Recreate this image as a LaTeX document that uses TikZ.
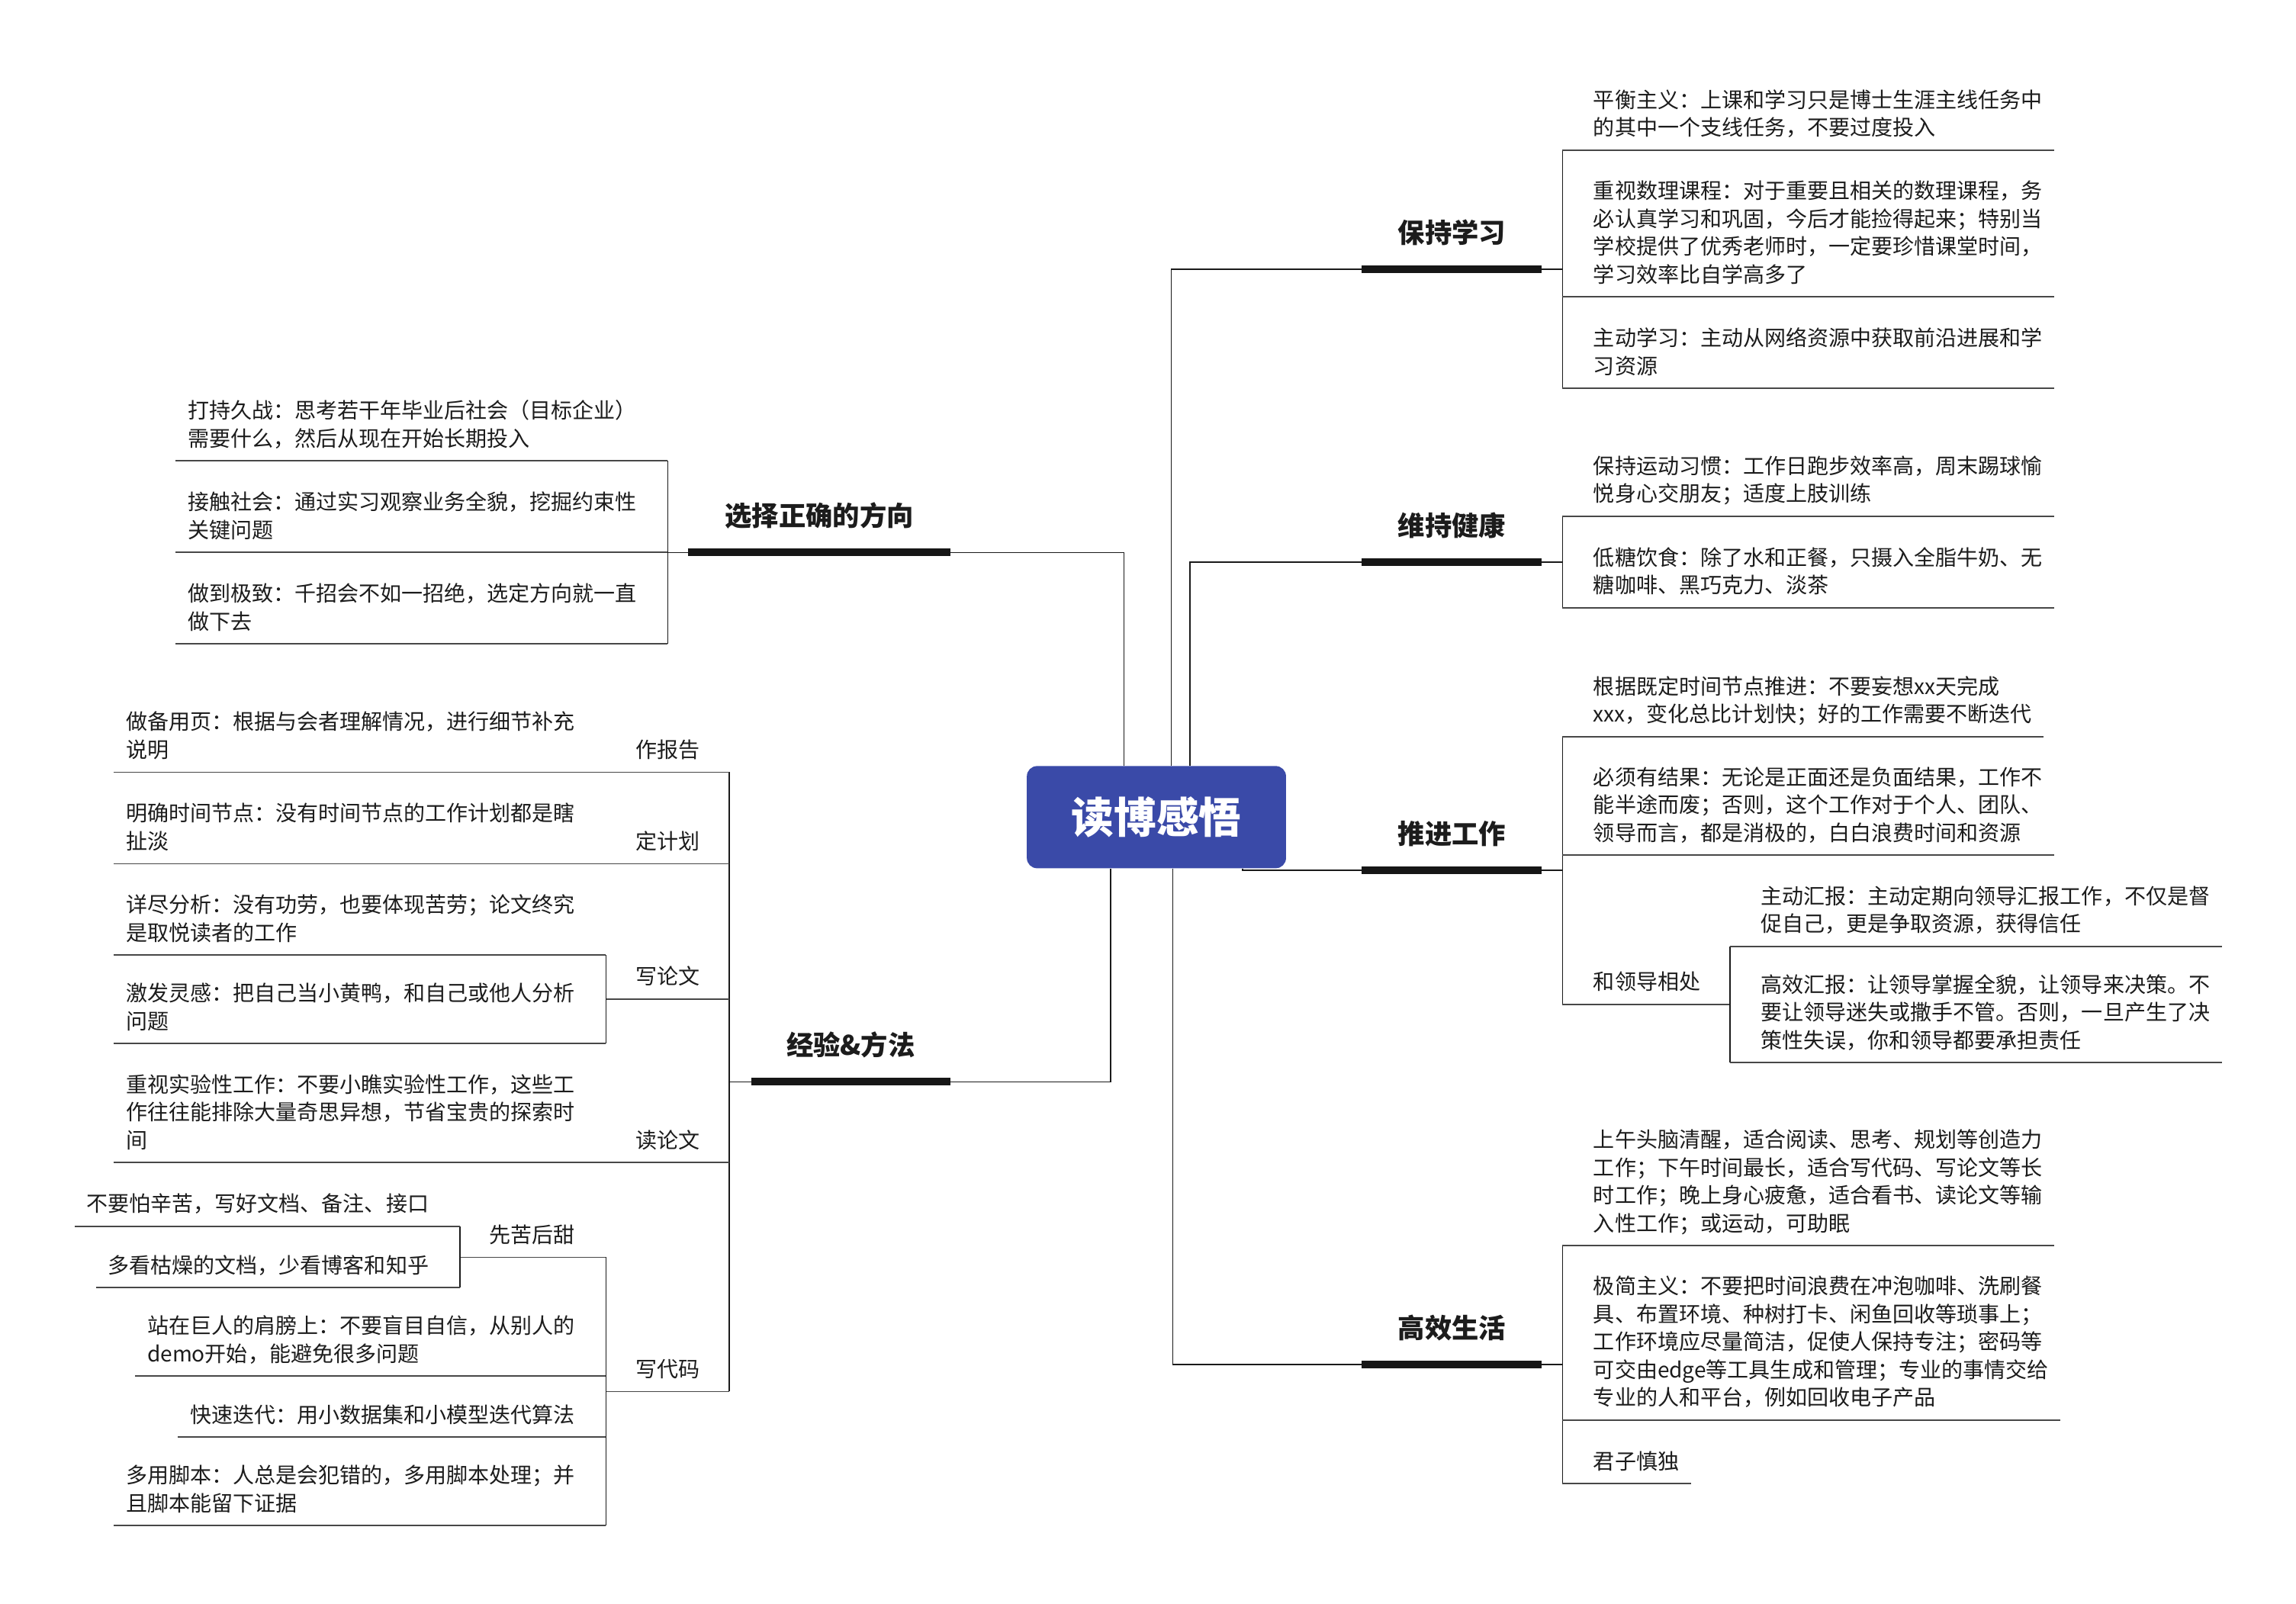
\documentclass[tikz,border=0pt]{standalone}
\usepackage{fontspec}
\usetikzlibrary{calc}
\newfontfamily\cjk{Noto Sans CJK SC}
\definecolor{rootblue}{HTML}{3A4AA8}
\definecolor{ink}{HTML}{1C1C1C}
\definecolor{wirecol}{HTML}{1A1A1A}
\definecolor{rulecol}{HTML}{474747}
\definecolor{barcol}{HTML}{161616}
\tikzset{
  leaf/.style={inner sep=0pt, align=left, text depth=0pt, text=ink,
    font=\cjk\fontsize{14.6}{19}\selectfont},
  rleaf/.style={leaf, anchor=south west},
  lleaf/.style={leaf, anchor=south east},
  branchtitle/.style={inner sep=0pt, anchor=base, text=ink,
    font=\cjk\bfseries\fontsize{18.4}{22}\selectfont},
  rootnode/.style={fill=rootblue, rounded corners=7pt, minimum width=177pt,
    minimum height=69.8pt, inner sep=0pt, text=white,
    font=\cjk\bfseries\fontsize{29}{34}\selectfont},
  wire/.style={draw=wirecol, line width=0.8pt},
  uline/.style={draw=rulecol, line width=0.95pt},
  bar/.style={draw=barcol, line width=5.2pt},
}
\begin{document}
\begin{tikzpicture}[x=1pt,y=1pt]
\useasboundingbox (0,0) rectangle (1568,-1095);
\fill[white] (0,0) rectangle (1568,-1095);

\node[rootnode] (root) at (789.75,-558.1) {读博感悟};

% ================= 保持学习
\coordinate (kb1) at (930,-183.9);
\coordinate (kb2) at (1053,-183.9);
\coordinate (kj) at (1067,-183.9);
\draw[wire] ([xshift=10.05pt]root.north) |- (kj);
\draw[bar] (kb1) -- (kb2);
\node[branchtitle] (kt) at ($(kb1)!0.5!(kb2)+(0,18)$) {保持学习};
\coordinate (k1) at (1067,-102.6);
\coordinate (k2) at (1067,-202.8);
\coordinate (k3) at (1067,-265.3);
\draw[wire] (k1) -- (k3);
\node[rleaf] (k1t) at ([xshift=21pt,yshift=9.7pt]k1) {平衡主义：上课和学习只是博士生涯主线任务中\\的其中一个支线任务，不要过度投入};
\draw[uline] (k1) -- (k1 -| k1t.east) -- ++(8,0);
\node[rleaf] (k2t) at ([xshift=21pt,yshift=9.7pt]k2) {重视数理课程：对于重要且相关的数理课程，务\\必认真学习和巩固，今后才能捡得起来；特别当\\学校提供了优秀老师时，一定要珍惜课堂时间，\\学习效率比自学高多了};
\draw[uline] (k2) -- (k2 -| k2t.east) -- ++(8,0);
\node[rleaf] (k3t) at ([xshift=21pt,yshift=9.7pt]k3) {主动学习：主动从网络资源中获取前沿进展和学\\习资源};
\draw[uline] (k3) -- (k3 -| k3t.east) -- ++(8,0);

% ================= 维持健康
\coordinate (hb1) at (930,-384);
\coordinate (hb2) at (1053,-384);
\coordinate (hj) at (1067,-384);
\draw[wire] ([xshift=22.85pt]root.north) |- (hj);
\draw[bar] (hb1) -- (hb2);
\node[branchtitle] (ht) at ($(hb1)!0.5!(hb2)+(0,18)$) {维持健康};
\coordinate (h1) at (1067,-352.5);
\coordinate (h2) at (1067,-415);
\draw[wire] (h1) -- (h2);
\node[rleaf] (h1t) at ([xshift=21pt,yshift=9.7pt]h1) {保持运动习惯：工作日跑步效率高，周末踢球愉\\悦身心交朋友；适度上肢训练};
\draw[uline] (h1) -- (h1 -| h1t.east) -- ++(8,0);
\node[rleaf] (h2t) at ([xshift=21pt,yshift=9.7pt]h2) {低糖饮食：除了水和正餐，只摄入全脂牛奶、无\\糖咖啡、黑巧克力、淡茶};
\draw[uline] (h2) -- (h2 -| h2t.east) -- ++(8,0);

% ================= 推进工作
\coordinate (tb1) at (930,-594.4);
\coordinate (tb2) at (1053,-594.4);
\coordinate (tj) at (1067,-594.4);
\draw[wire] ([xshift=58.85pt]root.south) |- (tj);
\draw[bar] (tb1) -- (tb2);
\node[branchtitle] (tt) at ($(tb1)!0.5!(tb2)+(0,18)$) {推进工作};
\coordinate (t1) at (1067,-503);
\coordinate (t2) at (1067,-584);
\coordinate (t3) at (1067,-686);
\draw[wire] (t1) -- (t3);
\node[rleaf] (t1t) at ([xshift=21pt,yshift=9.7pt]t1) {根据既定时间节点推进：不要妄想xx天完成\\xxx，变化总比计划快；好的工作需要不断迭代};
\draw[uline] (t1) -- (t1 -| t1t.east) -- ++(8,0);
\node[rleaf] (t2t) at ([xshift=21pt,yshift=9.7pt]t2) {必须有结果：无论是正面还是负面结果，工作不\\能半途而废；否则，这个工作对于个人、团队、\\领导而言，都是消极的，白白浪费时间和资源};
\draw[uline] (t2) -- (t2 -| t2t.east) -- ++(8,0);
\node[rleaf] (t3t) at ([xshift=21pt,yshift=9.7pt]t3) {和领导相处};
\coordinate (tlv) at ($(t3t.east)+(20,0)$);
\draw[uline] (t3) -- (t3 -| tlv);
\coordinate (tl1) at (tlv |- 0,-646.3);
\coordinate (tl2) at (tlv |- 0,-725.8);
\draw[wire] (tl1) -- (tl2);
\node[rleaf] (tl1t) at ([xshift=21pt,yshift=9.7pt]tl1) {主动汇报：主动定期向领导汇报工作，不仅是督\\促自己，更是争取资源，获得信任};
\draw[uline] (tl1) -- (tl1 -| tl1t.east) -- ++(8,0);
\node[rleaf] (tl2t) at ([xshift=21pt,yshift=9.7pt]tl2) {高效汇报：让领导掌握全貌，让领导来决策。不\\要让领导迷失或撒手不管。否则，一旦产生了决\\策性失误，你和领导都要承担责任};
\draw[uline] (tl2) -- (tl2 -| tl2t.east) -- ++(8,0);

% ================= 高效生活
\coordinate (eb1) at (930,-932);
\coordinate (eb2) at (1053,-932);
\coordinate (ej) at (1067,-932);
\draw[wire] ([xshift=11.25pt]root.south) |- (ej);
\draw[bar] (eb1) -- (eb2);
\node[branchtitle] (et) at ($(eb1)!0.5!(eb2)+(0,18)$) {高效生活};
\coordinate (e1) at (1067,-850.8);
\coordinate (e2) at (1067,-969.8);
\coordinate (e3) at (1067,-1013.3);
\draw[wire] (e1) -- (e3);
\node[rleaf] (e1t) at ([xshift=21pt,yshift=9.7pt]e1) {上午头脑清醒，适合阅读、思考、规划等创造力\\工作；下午时间最长，适合写代码、写论文等长\\时工作；晚上身心疲惫，适合看书、读论文等输\\入性工作；或运动，可助眠};
\draw[uline] (e1) -- (e1 -| e1t.east) -- ++(8,0);
\node[rleaf] (e2t) at ([xshift=21pt,yshift=9.7pt]e2) {极简主义：不要把时间浪费在冲泡咖啡、洗刷餐\\具、布置环境、种树打卡、闲鱼回收等琐事上；\\工作环境应尽量简洁，促使人保持专注；密码等\\可交由edge等工具生成和管理；专业的事情交给\\专业的人和平台，例如回收电子产品};
\draw[uline] (e2) -- (e2 -| e2t.east) -- ++(8,0);
\node[rleaf] (e3t) at ([xshift=21pt,yshift=9.7pt]e3) {君子慎独};
\draw[uline] (e3) -- (e3 -| e3t.east) -- ++(8,0);

% ================= 选择正确的方向
\coordinate (sb1) at (470,-377.3);
\coordinate (sb2) at (649,-377.3);
\coordinate (sj) at (456,-377.3);
\draw[wire] ([xshift=-22.25pt]root.north) |- (sj);
\draw[bar] (sb1) -- (sb2);
\node[branchtitle] (st) at ($(sb1)!0.5!(sb2)+(0,18)$) {选择正确的方向};
\coordinate (s1) at (456,-314.7);
\coordinate (s2) at (456,-377.3);
\coordinate (s3) at (456,-439.8);
\draw[wire] (s1) -- (s3);
\node[lleaf] (s1t) at ([xshift=-21pt,yshift=9.7pt]s1) {打持久战：思考若干年毕业后社会（目标企业）\\需要什么，然后从现在开始长期投入};
\draw[uline] (s1) -- (s1 -| s1t.west) -- ++(-8,0);
\node[lleaf] (s2t) at ([xshift=-21pt,yshift=9.7pt]s2) {接触社会：通过实习观察业务全貌，挖掘约束性\\关键问题};
\draw[uline] (s2) -- (s2 -| s2t.west) -- ++(-8,0);
\node[lleaf] (s3t) at ([xshift=-21pt,yshift=9.7pt]s3) {做到极致：千招会不如一招绝，选定方向就一直\\做下去};
\draw[uline] (s3) -- (s3 -| s3t.west) -- ++(-8,0);

% ================= 经验&方法
\coordinate (mb1) at (513,-738.9);
\coordinate (mb2) at (649,-738.9);
\coordinate (mj) at (498,-738.9);
\draw[wire] ([xshift=-31.25pt]root.south) |- (mj);
\draw[bar] (mb1) -- (mb2);
\node[branchtitle] (mt) at ($(mb1)!0.5!(mb2)+(0,18)$) {经验\&方法};
\coordinate (m1) at (498,-527.4);
\coordinate (m2) at (498,-589.9);
\coordinate (m3) at (498,-682.4);
\coordinate (m4) at (498,-794);
\coordinate (m5) at (498,-950.4);
\draw[wire] (m1) -- (m5);

% 作报告
\node[lleaf] (m1t) at ([xshift=-20pt,yshift=9.7pt]m1) {作报告};
\coordinate (m1c) at ($(m1t.west)+(-20,0)$);
\coordinate (r1) at (m1c |- m1);
\node[lleaf] (r1t) at ([xshift=-21pt,yshift=9.7pt]r1) {做备用页：根据与会者理解情况，进行细节补充\\说明};
\draw[uline] (m1) -- (r1) -- (r1 -| r1t.west) -- ++(-8,0);

% 定计划
\node[lleaf] (m2t) at ([xshift=-20pt,yshift=9.7pt]m2) {定计划};
\coordinate (m2c) at ($(m2t.west)+(-20,0)$);
\coordinate (p1) at (m2c |- m2);
\node[lleaf] (p1t) at ([xshift=-21pt,yshift=9.7pt]p1) {明确时间节点：没有时间节点的工作计划都是瞎\\扯淡};
\draw[uline] (m2) -- (p1) -- (p1 -| p1t.west) -- ++(-8,0);

% 写论文
\node[lleaf] (m3t) at ([xshift=-20pt,yshift=9.7pt]m3) {写论文};
\coordinate (m3c) at ($(m3t.west)+(-20,0)$);
\draw[uline] (m3) -- (m3 -| m3c);
\coordinate (w1) at (m3c |- 0,-652.4);
\coordinate (w2) at (m3c |- 0,-712.8);
\draw[wire] (w1) -- (w2);
\node[lleaf] (w1t) at ([xshift=-21pt,yshift=9.7pt]w1) {详尽分析：没有功劳，也要体现苦劳；论文终究\\是取悦读者的工作};
\draw[uline] (w1) -- (w1 -| w1t.west) -- ++(-8,0);
\node[lleaf] (w2t) at ([xshift=-21pt,yshift=9.7pt]w2) {激发灵感：把自己当小黄鸭，和自己或他人分析\\问题};
\draw[uline] (w2) -- (w2 -| w2t.west) -- ++(-8,0);

% 读论文
\node[lleaf] (m4t) at ([xshift=-20pt,yshift=9.7pt]m4) {读论文};
\coordinate (m4c) at ($(m4t.west)+(-20,0)$);
\coordinate (q1) at (m4c |- m4);
\node[lleaf] (q1t) at ([xshift=-21pt,yshift=9.7pt]q1) {重视实验性工作：不要小瞧实验性工作，这些工\\作往往能排除大量奇思异想，节省宝贵的探索时\\间};
\draw[uline] (m4) -- (q1) -- (q1 -| q1t.west) -- ++(-8,0);

% 写代码
\node[lleaf] (m5t) at ([xshift=-20pt,yshift=9.7pt]m5) {写代码};
\coordinate (m5c) at ($(m5t.west)+(-20,0)$);
\draw[uline] (m5) -- (m5 -| m5c);
\coordinate (c1) at (m5c |- 0,-858.7);
\coordinate (c2) at (m5c |- 0,-939.8);
\coordinate (c3) at (m5c |- 0,-981.6);
\coordinate (c4) at (m5c |- 0,-1041.9);
\draw[wire] (c1) -- (c4);
\node[lleaf] (c1t) at ([xshift=-21pt,yshift=9.7pt]c1) {先苦后甜};
\coordinate (c1c) at ($(c1t.west)+(-20,0)$);
\draw[uline] (c1) -- (c1 -| c1c);
\coordinate (g1) at (c1c |- 0,-837.5);
\coordinate (g2) at (c1c |- 0,-879.5);
\draw[wire] (g1) -- (g2);
\node[lleaf] (g1t) at ([xshift=-21pt,yshift=9.7pt]g1) {不要怕辛苦，写好文档、备注、接口};
\draw[uline] (g1) -- (g1 -| g1t.west) -- ++(-8,0);
\node[lleaf] (g2t) at ([xshift=-21pt,yshift=9.7pt]g2) {多看枯燥的文档，少看博客和知乎};
\draw[uline] (g2) -- (g2 -| g2t.west) -- ++(-8,0);
\node[lleaf] (c2t) at ([xshift=-21pt,yshift=9.7pt]c2) {站在巨人的肩膀上：不要盲目自信，从别人的\\demo开始，能避免很多问题};
\draw[uline] (c2) -- (c2 -| c2t.west) -- ++(-8,0);
\node[lleaf] (c3t) at ([xshift=-21pt,yshift=9.7pt]c3) {快速迭代：用小数据集和小模型迭代算法};
\draw[uline] (c3) -- (c3 -| c3t.west) -- ++(-8,0);
\node[lleaf] (c4t) at ([xshift=-21pt,yshift=9.7pt]c4) {多用脚本：人总是会犯错的，多用脚本处理；并\\且脚本能留下证据};
\draw[uline] (c4) -- (c4 -| c4t.west) -- ++(-8,0);
\end{tikzpicture}
\end{document}
